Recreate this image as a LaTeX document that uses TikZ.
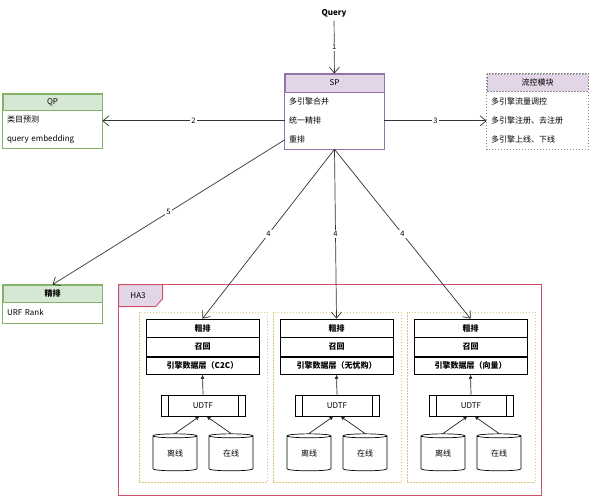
\documentclass[tikz,border=0pt]{standalone}
\usepackage{fontspec}
\setmainfont{Noto Sans CJK SC}
\usetikzlibrary{positioning, arrows.meta, shapes.geometric}

\definecolor{lilac}{HTML}{E1D5E7}
\definecolor{lilacline}{HTML}{9673A6}
\definecolor{mint}{HTML}{D5E8D4}
\definecolor{mintline}{HTML}{82B366}
\definecolor{hathree}{HTML}{D0506A}
\definecolor{sandline}{HTML}{D6B656}

\begin{document}
\begin{tikzpicture}[
    x=1pt, y=-1pt, line width=0.7pt, font=\fontsize{8}{9.5}\selectfont,
    open/.style={-{Straight Barb[length=6pt,width=10pt]}, draw=black!80},
    feed/.style={-{Latex[length=4pt,width=4pt]}, draw=black!85},
    lab/.style={fill=white, inner sep=1pt, font=\fontsize{7.5}{8}\selectfont},
    head/.style={draw, minimum width=99pt, minimum height=18pt, inner sep=0pt},
    row/.style={minimum height=18.3pt, text width=91pt, inner xsep=4pt, inner ysep=0pt, align=left},
    layer/.style={draw, minimum width=113pt, inner sep=0pt, font=\bfseries\fontsize{8}{9.5}\selectfont},
    group/.style={draw=sandline!80, dash pattern=on 1.5pt off 1.5pt, minimum width=128pt, minimum height=170pt},
    udtf/.style={draw, minimum width=84pt, minimum height=21pt, inner sep=0pt,
        path picture={\draw ([xshift=7pt]path picture bounding box.north west) -- ([xshift=7pt]path picture bounding box.south west)
            ([xshift=-7pt]path picture bounding box.north east) -- ([xshift=-7pt]path picture bounding box.south east);}},
    store/.style={draw, cylinder, shape border rotate=90, aspect=0.25, minimum width=44pt, minimum height=37pt, inner sep=0pt}
]
    \useasboundingbox (0,0) rectangle (591,500);

    % Query and SP
    \node[font=\bfseries\fontsize{8}{9.5}\selectfont] (query) at (334,13) {Query};
    \node[head, fill=lilac, draw=lilacline] (sp) at (334.5,83) {SP};
    \node[row, below=0pt of sp] (sp1) {多引擎合并};
    \node[row, below=0pt of sp1] (sp2) {统一精排};
    \node[row, below=0pt of sp2] (sp3) {重排};
    \draw[lilacline] (sp.north west) rectangle (sp3.south east);

    % QP
    \node[head, minimum height=16pt, fill=mint, draw=mintline] (qp) at (52.5,102) {QP};
    \node[row, minimum height=18.5pt, below=0pt of qp] (qp1) {类目预测};
    \node[row, minimum height=18.5pt, below=0pt of qp1] (qp2) {query embedding};
    \draw[mintline] (qp.north west) rectangle (qp2.south east);

    % flow control
    \node[head, minimum width=101pt, minimum height=17pt, fill=lilac, draw=black!45, dash pattern=on 1.5pt off 1.5pt] (ctrl) at (537.5,82.5) {流控模块};
    \node[row, minimum height=18.7pt, text width=93pt, below=0pt of ctrl] (ctrl1) {多引擎流量调控};
    \node[row, minimum height=18.7pt, text width=93pt, below=0pt of ctrl1] (ctrl2) {多引擎注册、去注册};
    \node[row, minimum height=18.7pt, text width=93pt, below=0pt of ctrl2] (ctrl3) {多引擎上线、下线};
    \draw[black!45, dash pattern=on 1.5pt off 1.5pt] (ctrl.north west) rectangle (ctrl3.south east);

    % fine ranking
    \node[head, minimum height=17pt, fill=mint, draw=mintline, font=\bfseries\fontsize{8}{9.5}\selectfont] (rank) at (52.5,293.5) {精排};
    \node[row, minimum height=20pt, below=0pt of rank] (rank1) {URF Rank};
    \draw[mintline] (rank.north west) rectangle (rank1.south east);

    % HA3
    \node[minimum width=422pt, minimum height=210pt] (ha3) at (330,390) {};
    \draw[hathree, line width=1pt] (ha3.north west) rectangle (ha3.south east);
    \draw[hathree, line width=0.9pt, fill=lilac] (ha3.north west) -- ++(44,0) -- ++(0,14) -- ++(-7,8) -| cycle;
    \node (ha3tag) at (138,296) {HA3};

    \foreach \i/\x/\name in {1/202.5/C2C, 2/336.5/无忧购, 3/470.5/向量} {
        \node[group] (g\i) at (\x+0.5,397) {};
        \node[layer, minimum height=18pt] (cu\i) at (\x,328) {粗排};
        \node[layer, minimum height=18.5pt, below=0pt of cu\i] (rc\i) {召回};
        \node[layer, minimum height=17.5pt, below=0pt of rc\i] (db\i) {引擎数据层（\name）};
        \node[udtf] (udtf\i) at (\x+0.5,405.5) {UDTF};
        \node[store] (off\i) at (\x-27.5,453.5) {\raisebox{-7pt}{离线}};
        \node[store] (on\i) at (\x+28.5,453.5) {\raisebox{-7pt}{在线}};
        \draw[feed] (udtf\i.north) -- (db\i.south);
        \draw[feed] (off\i.north) -- ([xshift=-3.5pt]udtf\i.south);
        \draw[feed] (on\i.north) -- ([xshift=3.5pt]udtf\i.south);
        \draw[open] (sp3.south) -- node[lab] {4} (cu\i.north);
    }

    % Calls
    \draw[open] (query) -- node[lab] {1} (sp);
    \draw[open] (sp2.west) -- node[lab] {2} (sp2.west -| qp1.east);
    \draw[open] (sp2.east) -- node[lab] {3} (sp2.east -| ctrl2.west);
    \draw[open] (sp3.west) -- node[lab] {5} (rank.north);

\end{tikzpicture}
\end{document}
